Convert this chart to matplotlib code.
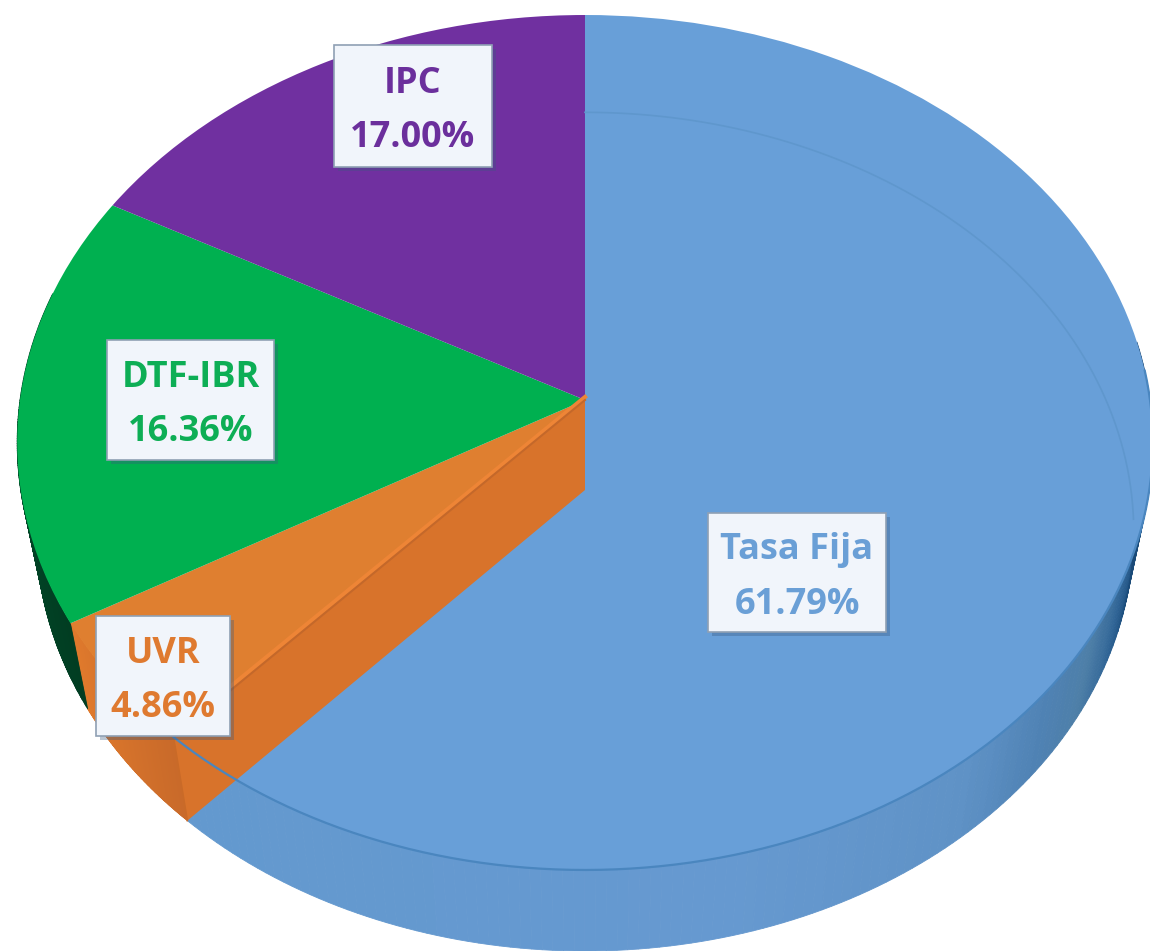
import numpy as np
import matplotlib
matplotlib.use("Agg")
import matplotlib.pyplot as plt
import matplotlib.patheffects as pe
from matplotlib.colors import LinearSegmentedColormap
from matplotlib.patches import Rectangle
from matplotlib.transforms import Transform

labels = ["Tasa Fija", "UVR", "DTF-IBR", "IPC"]
values = [61.79, 4.86, 16.36, 17.00]
value_text = ["61.79%", "4.86%", "16.36%", "17.00%"]
colors = ["#689FD8", "#DF7F30", "#00B050", "#7030A0"]
text_colors = ["#6A9FD6", "#DF7A30", "#0DAE55", "#6B2F9C"]

# perspective of the top and bottom faces, in pixels
PERSP = 0.0994
TOP = (585, 400, 565, -383.5)
BOTTOM = (585, 490, 546, -366.5)


class DiscTransform(Transform):
    input_dims = 2
    output_dims = 2

    def __init__(self, disc):
        super().__init__()
        self.disc = disc

    def transform_non_affine(self, values):
        cx, cy, r, b = self.disc
        values = np.asarray(values, dtype=float)
        w = 1 + PERSP * values[:, 1]
        return np.column_stack([cx + r * values[:, 0] / w, (cy + b * values[:, 1]) / w])


def rim(disc, deg):
    a = np.radians(deg)
    return DiscTransform(disc).transform(np.column_stack([np.cos(a), np.sin(a)]))


def draw_wall(ax, start, end, cmap, zorder=1):
    angles = np.linspace(start, end, 140)
    top = rim(TOP, angles)
    bottom = rim(BOTTOM, angles)
    for i in range(len(angles) - 1):
        poly = np.vstack([top[i], top[i + 1], bottom[i + 1], bottom[i]])
        c = cmap(i / (len(angles) - 2))
        ax.fill(poly[:, 0], poly[:, 1], color=c, lw=0.6, zorder=zorder)


def main():
    fig = plt.figure(figsize=(11.5, 9.51), dpi=100)
    ax = fig.add_axes([0, 0, 1, 1])

    wedges, _ = ax.pie(values, colors=colors, startangle=90, counterclock=False,
                       radius=1, wedgeprops={"linewidth": 0, "zorder": 3})
    top_tf = DiscTransform(TOP) + ax.transData
    for w in wedges:
        w.set_transform(top_tf)
        w.set_clip_on(True)

    ax.set_aspect("auto")
    ax.set_xlim(0, 1150)
    ax.set_ylim(951, 0)
    ax.axis("off")

    bounds = 90 - np.cumsum(values) * 3.6
    blue_end, orange_end = bounds[0], bounds[1]

    blue_wall = LinearSegmentedColormap.from_list(
        "blue_wall",
        [(0, "#6399CF"), (0.4, "#6699D0"), (0.58, "#5F92C6"), (0.66, "#4F82B4"),
         (0.72, "#4E7FA8"), (0.78, "#2F6496"), (0.84, "#1B4C7A"), (1, "#174470")])
    orange_wall = LinearSegmentedColormap.from_list("orange_wall", ["#E07A2C", "#C96A2A"])
    green_wall = LinearSegmentedColormap.from_list("green_wall", ["#02512E", "#013D22"])
    draw_wall(ax, blue_end, 8, blue_wall)
    draw_wall(ax, orange_end, blue_end, orange_wall)
    draw_wall(ax, orange_end - 45, orange_end, green_wall)

    # back rim showing through the blue slice
    arc = rim(BOTTOM, np.linspace(90, -4, 150))
    ax.plot(arc[:, 0], arc[:, 1], color="#5F97CD", lw=1.2, zorder=4)

    # cut face of the orange slice
    apex_top = (TOP[0], TOP[1])
    apex_bot = (BOTTOM[0], BOTTOM[1])
    p_top = rim(TOP, np.array([blue_end]))[0]
    p_bot = rim(BOTTOM, np.array([blue_end]))[0]
    face = np.vstack([apex_top, p_top, p_bot, apex_bot])
    ax.fill(face[:, 0], face[:, 1], color="#D8732B", lw=0, zorder=5)
    ax.plot([apex_top[0], p_top[0]], [apex_top[1], p_top[1]], color="#C4682A", lw=1.5, zorder=6)
    ax.plot([p_top[0], p_bot[0]], [p_top[1], p_bot[1]], color="#C96A28", lw=1.2, zorder=6)

    # lighter edge of the orange top
    ax.plot([apex_top[0], p_top[0]], [apex_top[1] - 3, p_top[1] - 4], color="#EE8536", lw=3, zorder=4)

    # front rim of the blue slice
    arc = rim(TOP, np.linspace(blue_end, 4, 200))
    ax.plot(arc[:, 0], arc[:, 1], color="#4A86BF", lw=1.6, zorder=7)

    label_boxes = [(708, 513, 178, 119), (96, 616, 134, 120), (107, 340, 167, 120), (334, 45, 158, 122)]
    for name, val, col, box in zip(labels, value_text, text_colors, label_boxes):
        rect = Rectangle(box[:2], box[2], box[3], facecolor="#F1F5FB", edgecolor="#8FA0B4",
                         linewidth=1.2, zorder=9)
        rect.set_path_effects([
            pe.SimplePatchShadow(offset=(3, -3), shadow_rgbFace="#3A5A80", alpha=0.35),
            pe.Normal()])
        ax.add_patch(rect)
        ax.text(box[0] + box[2] / 2, box[1] + box[3] / 2 + 5, f"{name}\n{val}", color=col, fontsize=26,
                fontweight="bold", family="Open Sans", ha="center", va="center", linespacing=1.7, zorder=10)

    fig.savefig("out.png", dpi=100)


if __name__ == '__main__':
    main()
